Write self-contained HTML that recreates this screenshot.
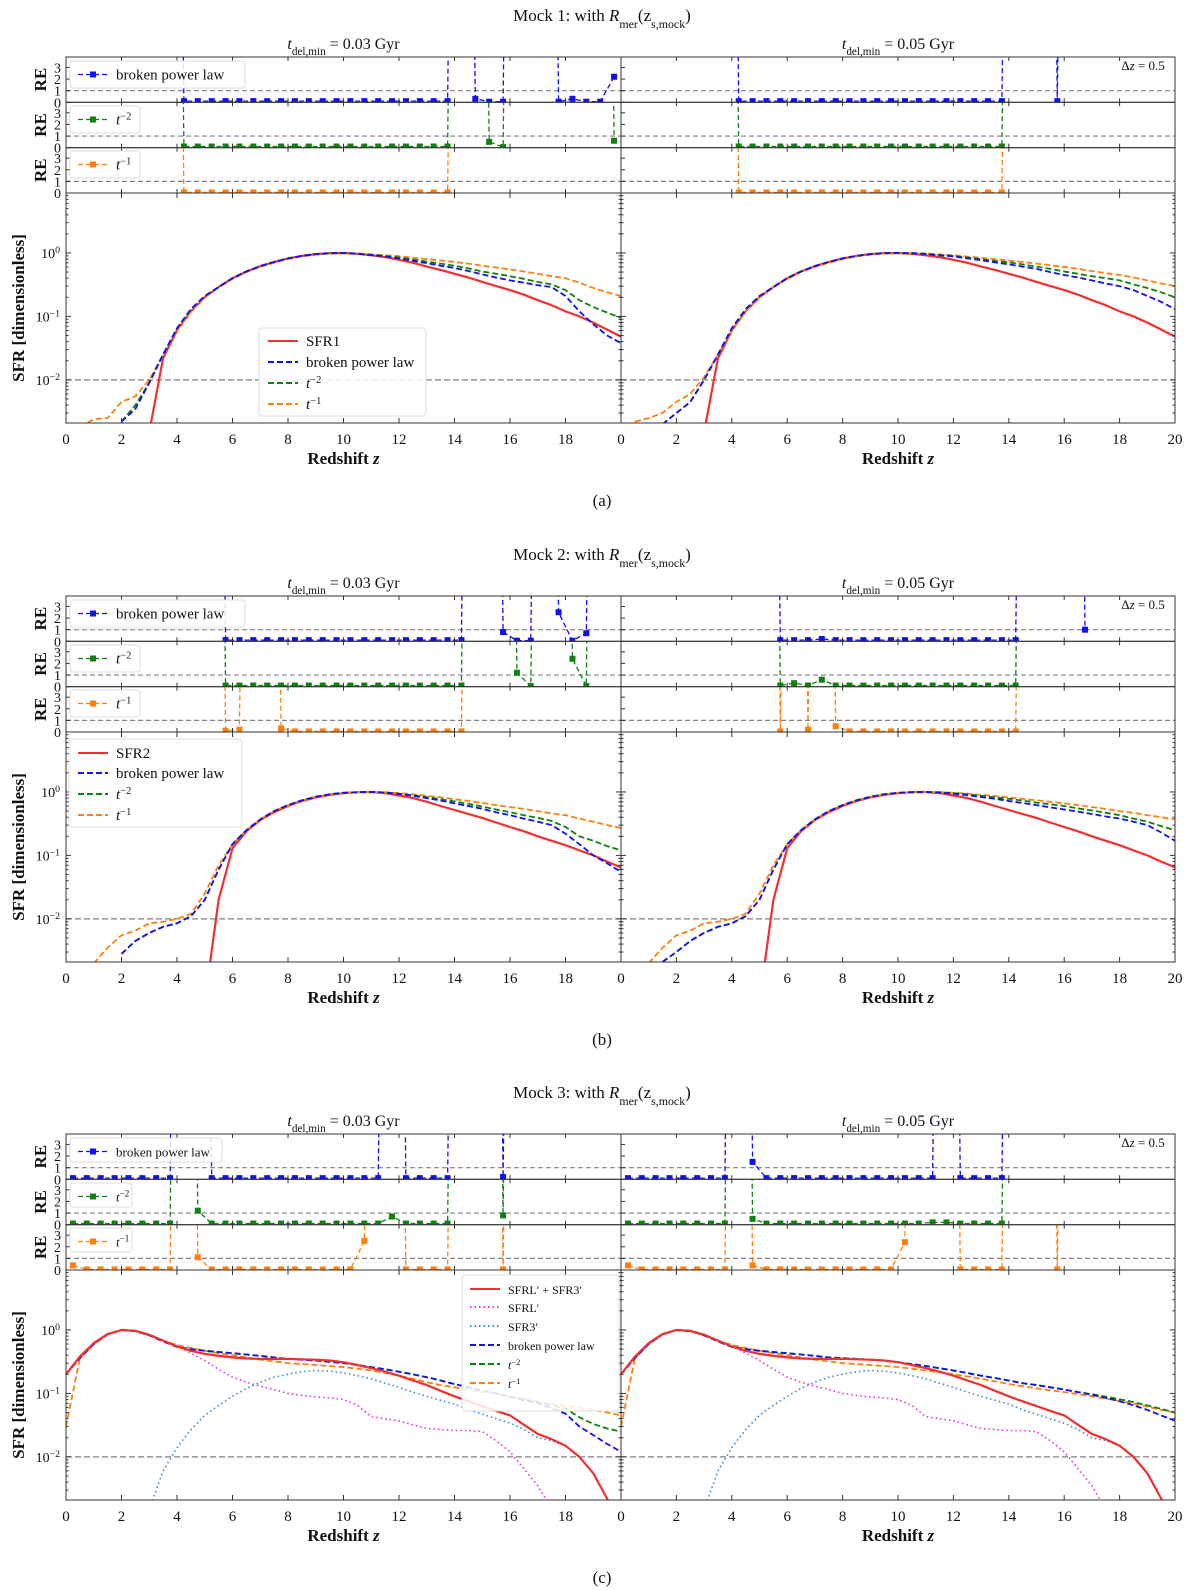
<!DOCTYPE html>
<html><head><meta charset="utf-8"><title>SFR reconstruction mocks</title>
<style>
html,body{margin:0;padding:0;background:#fff;}
svg{display:block;font-family:"Liberation Serif",serif;}
</style></head>
<body>
<svg id="fig" width="1200" height="1590" viewBox="0 0 1200 1590" xmlns="http://www.w3.org/2000/svg"></svg>
<script>
const N=null, H=99;
// main-plot redshift grid: 0..20 step 0.5
const zMain=[0,0.5,1,1.5,2,2.5,3,3.5,4,4.5,5,5.5,6,6.5,7,7.5,8,8.5,9,9.5,10,10.5,11,11.5,12,12.5,13,13.5,14,14.5,15,15.5,16,16.5,17,17.5,18,18.5,19,19.5,20];
// RE grid: bin centres, dz=0.5
const zRE=[0.25,0.75,1.25,1.75,2.25,2.75,3.25,3.75,4.25,4.75,5.25,5.75,6.25,6.75,7.25,7.75,8.25,8.75,9.25,9.75,10.25,10.75,11.25,11.75,12.25,12.75,13.25,13.75,14.25,14.75,15.25,15.75,16.25,16.75,17.25,17.75,18.25,18.75,19.25,19.75];
const xTicks=[0,2,4,6,8,10,12,14,16,18,20];
const reTicks=[0,1,2,3];
const logTicks=[0,-1,-2];

// ---------- Mock 1 ----------
const aRed=[N,N,N,N,N,N,.0015,.022,.06,.12,.2,.29,.4,.51,.62,.72,.82,.9,.96,.99,1,.97,.92,.86,.78,.7,.61,.54,.47,.41,.35,.3,.26,.22,.18,.15,.12,.1,.08,.062,.048];
const aLBlue=[N,N,N,N,.0022,.0035,.009,.025,.065,.13,.21,.29,.4,.51,.62,.72,.82,.9,.96,.99,1,.97,.93,.88,.82,.75,.69,.63,.58,.52,.46,.41,.37,.34,.31,.29,.21,.12,.075,.05,.038];
const aLGreen=[N,N,N,N,.0022,.004,.009,.025,.065,.13,.21,.29,.4,.51,.62,.72,.82,.9,.96,.99,1,.98,.94,.9,.85,.79,.73,.68,.63,.57,.51,.47,.43,.39,.35,.32,.26,.18,.14,.115,.095];
const aLOrange=[N,.0018,.0024,.0025,.0045,.0055,.01,.025,.06,.12,.2,.29,.39,.5,.6,.7,.8,.88,.94,.98,1,.98,.95,.92,.89,.84,.8,.76,.72,.68,.63,.59,.55,.51,.47,.43,.4,.34,.28,.24,.21];
const aRBlue=[N,N,N,.002,.003,.0045,.01,.025,.065,.13,.21,.29,.4,.51,.62,.72,.82,.9,.96,.99,1,.99,.96,.92,.88,.82,.77,.71,.66,.61,.56,.5,.45,.41,.37,.33,.3,.26,.21,.17,.13];
const aRGreen=[N,N,N,.002,.003,.0045,.01,.025,.065,.13,.21,.29,.4,.51,.62,.72,.82,.9,.96,.99,1,.99,.97,.93,.9,.85,.8,.75,.71,.66,.61,.56,.51,.47,.43,.4,.37,.32,.28,.24,.2];
const aROrange=[N,.0022,.0025,.003,.0045,.006,.011,.025,.06,.12,.2,.29,.39,.5,.6,.7,.8,.88,.94,.98,1,.99,.98,.95,.92,.88,.84,.8,.76,.72,.68,.64,.6,.56,.52,.48,.45,.41,.37,.33,.3];
const aLreB=[N,N,N,N,N,N,N,H,.1,.1,.1,.1,.1,.1,.1,.1,.1,.1,.1,.1,.1,.1,.1,.1,.1,.1,.1,.1,H,.3,.05,.05,H,H,H,.05,.3,.05,.05,2.2];
const aLreG=[N,N,N,N,N,N,N,H,.1,.1,.1,.1,.1,.1,.1,.1,.1,.1,.1,.1,.1,.1,.1,.1,.1,.1,.1,.1,H,H,.5,.05,H,H,H,H,H,H,H,.6];
const aLreO=[N,N,N,N,N,N,N,H,.05,.05,.05,.05,.05,.05,.05,.05,.05,.05,.05,.05,.05,.05,.05,.05,.05,.05,.05,.05,H,H,H,H,H,H,H,H,H,H,H,H];
const aRreB=[N,N,N,N,N,N,N,H,.1,.1,.1,.1,.1,.1,.1,.1,.1,.1,.1,.1,.1,.1,.1,.1,.1,.1,.1,.1,H,H,H,.1,H,H,H,H,H,H,H,H];
const aRreG=[N,N,N,N,N,N,N,H,.1,.1,.1,.1,.1,.1,.1,.1,.1,.1,.1,.1,.1,.1,.1,.1,.1,.1,.1,.1,H,H,H,H,H,H,H,H,H,H,H,H];
const aRreO=[N,N,N,N,N,N,N,H,.05,.05,.05,.05,.05,.05,.05,.05,.05,.05,.05,.05,.05,.05,.05,.05,.05,.05,.05,.05,H,H,H,H,H,H,H,H,H,H,H,H];

// ---------- Mock 2 ----------
const bRed=[N,N,N,N,N,N,N,N,N,N,.0005,.02,.13,.24,.36,.48,.6,.72,.82,.9,.96,.99,1,.96,.88,.8,.7,.6,.52,.45,.39,.33,.28,.24,.2,.17,.145,.12,.1,.08,.065];
const bLBlue=[N,N,N,N,.0028,.0045,.006,.0075,.0085,.011,.02,.06,.15,.25,.37,.5,.62,.74,.84,.92,.97,.99,1,.98,.93,.87,.8,.73,.66,.6,.54,.48,.43,.38,.34,.3,.22,.15,.1,.075,.055];
const bLGreen=[N,N,N,N,.0028,.0045,.006,.0075,.0085,.011,.02,.06,.15,.25,.37,.5,.62,.74,.84,.92,.97,.99,1,.98,.94,.89,.83,.77,.71,.65,.59,.53,.48,.43,.39,.35,.28,.2,.17,.14,.12];
const bLOrange=[N,N,.002,.0035,.0055,.0065,.0085,.009,.01,.012,.025,.07,.15,.25,.37,.5,.62,.74,.84,.92,.97,.99,1,.99,.96,.92,.87,.82,.77,.72,.67,.62,.58,.54,.5,.46,.43,.38,.34,.3,.27];
const bRBlue=[N,N,N,.0021,.003,.0045,.006,.0075,.0085,.011,.02,.06,.15,.25,.37,.5,.62,.74,.84,.92,.97,.99,1,.98,.94,.89,.83,.78,.72,.67,.62,.57,.53,.49,.45,.41,.38,.34,.3,.23,.17];
const bRGreen=[N,N,N,.0021,.003,.0045,.006,.0075,.0085,.011,.02,.06,.15,.25,.37,.5,.62,.74,.84,.92,.97,.99,1,.99,.96,.92,.87,.82,.78,.73,.68,.64,.6,.55,.51,.47,.43,.38,.34,.29,.25];
const bROrange=[N,N,.002,.0035,.0055,.0065,.0085,.009,.01,.012,.025,.07,.15,.25,.37,.5,.62,.74,.84,.92,.97,.99,1,.99,.97,.94,.9,.86,.82,.78,.74,.7,.66,.62,.58,.54,.5,.47,.43,.4,.37];
const bLreB=[N,N,N,N,N,N,N,N,N,N,H,.1,.1,.1,.1,.1,.1,.1,.1,.1,.1,.1,.1,.1,.1,.1,.1,.1,.1,H,H,.8,.05,.05,H,2.5,.05,.7,H,H];
const bLreG=[N,N,N,N,N,N,N,N,N,N,H,.1,.1,.1,.1,.1,.1,.1,.1,.1,.1,.1,.1,.1,.1,.1,.1,.1,.1,H,H,H,1.2,.05,H,H,2.4,.05,H,H];
const bLreO=[N,N,N,N,N,N,N,N,N,N,H,.1,.2,H,H,.3,.05,.05,.05,.05,.05,.05,.05,.05,.05,.05,.05,.05,.05,H,H,H,H,H,H,H,H,H,H,H];
const bRreB=[N,N,N,N,N,N,N,N,N,N,H,.1,.1,.1,.2,.1,.1,.1,.1,.1,.1,.1,.1,.1,.1,.1,.1,.1,.1,H,H,H,H,1.0,N,N,N,N,N,N];
const bRreG=[N,N,N,N,N,N,N,N,N,N,H,.1,.3,.1,.6,.1,.1,.1,.1,.1,.1,.1,.1,.1,.1,.1,.1,.1,.1,H,H,H,H,H,H,H,H,H,H,H];
const bRreO=[N,N,N,N,N,N,N,N,N,N,H,.05,H,.2,H,.5,.05,.05,.05,.05,.05,.05,.05,.05,.05,.05,.05,.05,.05,H,H,H,H,H,H,H,H,H,H,H];

// ---------- Mock 3 ----------
const cRed=[.2,.38,.62,.86,1,.97,.84,.68,.55,.47,.42,.39,.37,.355,.35,.35,.35,.345,.34,.33,.31,.28,.25,.22,.19,.16,.135,.11,.09,.075,.063,.053,.045,.032,.023,.019,.015,.01,.0055,.0022,.0008];
const cSFRL=[.2,.38,.62,.86,1,.97,.84,.68,.55,.43,.33,.24,.18,.15,.13,.115,.1,.093,.088,.085,.08,.065,.043,.04,.037,.032,.028,.027,.026,.026,.025,.018,.012,.0065,.0035,.0015,N,N,N,N,N];
const cSFR3=[N,N,N,N,N,N,.0015,.006,.014,.027,.045,.065,.09,.12,.15,.18,.2,.22,.23,.225,.21,.19,.17,.145,.125,.105,.09,.078,.068,.055,.047,.04,.034,.027,.02,.018,.015,.01,.0055,.0022,.0008];
const cLBlue=[.2,.36,.6,.85,1,.96,.82,.66,.54,.5,.47,.45,.43,.41,.39,.37,.35,.34,.33,.315,.3,.28,.26,.24,.22,.2,.18,.16,.14,.125,.11,.1,.088,.078,.07,.058,.048,.03,.022,.016,.012];
const cLGreen=[.2,.36,.6,.85,1,.96,.82,.66,.54,.5,.47,.45,.43,.41,.39,.37,.35,.34,.33,.315,.3,.28,.26,.24,.22,.2,.18,.16,.14,.125,.11,.1,.088,.08,.072,.065,.058,.042,.033,.028,.025];
const cLOrange=[.03,.36,.6,.85,1,.96,.82,.68,.58,.52,.47,.43,.4,.37,.34,.32,.3,.29,.28,.27,.26,.245,.23,.21,.19,.17,.15,.135,.125,.115,.105,.098,.09,.082,.075,.068,.064,.06,.055,.05,.045];
const cRBlue=[.2,.36,.6,.85,1,.96,.82,.66,.54,.5,.47,.45,.43,.41,.39,.37,.36,.35,.34,.33,.31,.29,.27,.25,.23,.21,.19,.175,.16,.145,.135,.125,.115,.105,.095,.085,.075,.065,.055,.045,.037];
const cRGreen=[.2,.36,.6,.85,1,.96,.82,.66,.54,.5,.47,.45,.43,.41,.39,.37,.36,.35,.34,.33,.31,.29,.27,.25,.23,.21,.19,.175,.16,.145,.135,.125,.115,.105,.097,.089,.081,.073,.065,.057,.05];
const cROrange=[.03,.36,.6,.85,1,.96,.82,.68,.58,.52,.47,.43,.4,.37,.34,.32,.3,.29,.28,.27,.26,.245,.23,.215,.2,.185,.17,.155,.14,.13,.12,.112,.105,.097,.09,.083,.076,.069,.062,.055,.05];
const cLreB=[.1,.1,.1,.1,.1,.1,.1,.1,H,H,.1,.1,.1,.1,.1,.1,.1,.1,.1,.1,.1,.1,.1,H,.1,.1,.1,.1,H,H,H,.2,H,H,H,H,H,H,H,H];
const cLreG=[.1,.1,.1,.1,.1,.1,.1,.1,H,1.2,.1,.1,.1,.1,.1,.1,.1,.1,.1,.1,.1,.1,.1,.7,.1,.1,.1,.1,H,H,H,.8,H,H,H,H,H,H,H,H];
const cLreO=[.4,.05,.05,.05,.05,.05,.05,.05,H,1.1,.05,.05,.05,.05,.05,.05,.05,.05,.05,.05,.05,2.5,H,H,.05,.05,.05,.05,H,H,H,.05,H,H,H,H,H,H,H,H];
const cRreB=[.1,.1,.1,.1,.1,.1,.1,.1,H,1.5,.1,.1,.1,.1,.1,.1,.1,.1,.1,.1,.1,.1,.1,H,.1,.1,.1,.1,H,H,H,H,H,H,H,H,H,H,H,H];
const cRreG=[.1,.1,.1,.1,.1,.1,.1,.1,H,.5,.1,.1,.1,.1,.1,.1,.1,.1,.1,.1,.1,.1,.2,.2,.1,.1,.1,.1,H,H,H,H,H,H,H,H,H,H,H,H];
const cRreO=[.4,.05,.05,.05,.05,.05,.05,.05,H,.4,.05,.05,.05,.05,.05,.05,.05,.05,.05,.05,2.4,H,H,H,.05,.05,.05,.05,H,H,H,.05,H,H,H,H,H,H,H,H];

const C={red:'#f03030',blue:'#1010f0',green:'#108010',orange:'#ff7f0e',mag:'#e030e0',sky:'#3a8ac8',grey:'#808080'};
const svg=document.getElementById('fig');
const NS='http://www.w3.org/2000/svg';
let clipId=0;
function el(tag,attrs,parent){const e=document.createElementNS(NS,tag);for(const k in attrs)e.setAttribute(k,attrs[k]);(parent||svg).appendChild(e);return e;}

const XL=66, XM=621, XR=1175;
const LOGMIN=-2.68, LOGMAX=0.945, REMAX=3.9;

function richText(parent,x,y,size,parts,anchor,name){
  const t=el('text',{x:x,y:y,'font-size':size,'text-anchor':anchor||'middle',fill:'#111'},parent);
  
  
  parts.forEach(p=>{const s=document.createElementNS(NS,'tspan');
    if(p.i)s.setAttribute('font-style','italic');
    if(p.sub){s.setAttribute('baseline-shift','sub');s.setAttribute('font-size',size*0.7);}
    if(p.sup){s.setAttribute('baseline-shift','super');s.setAttribute('font-size',size*0.7);}
    s.textContent=p.t;t.appendChild(s);});
  return t;
}
function pathD(zs,vs,sx,sy,isLog){
  let d='',pen=false;
  for(let i=0;i<zs.length;i++){const v=vs[i];
    if(v===null||v===undefined||(isLog&&v<=0)){pen=false;continue;}
    const x=sx(zs[i]),y=sy(v);d+=(pen?'L':'M')+x.toFixed(1)+' '+y.toFixed(1);pen=true;}
  return d;
}
function makeClip(g,x,y,w,h){const id='clip'+(clipId++);const cp=el('clipPath',{id:id},g);el('rect',{x:x,y:y,width:w,height:h},cp);return 'url(#'+id+')';}

function drawRE(g,x0,x1,top,bot,vals,color,showLabels,name){
  const sx=z=>x0+z/20*(x1-x0);
  const sy=v=>bot-v/REMAX*(bot-top);
  const ax=el('g',{},g);
  
  
  const cl=makeClip(ax,x0,top,x1-x0,bot-top);
  el('line',{x1:x0,x2:x1,y1:sy(1),y2:sy(1),stroke:C.grey,'stroke-width':1.2,'stroke-dasharray':'5,3'},ax);
  const pg=el('g',{'clip-path':cl},ax);
  const ln=el('path',{d:pathD(zRE,vals,sx,sy,false),fill:'none',stroke:color,'stroke-width':1.3,'stroke-dasharray':'5,3'},pg);
  
  
  vals.forEach((v,i)=>{if(v!==null&&v<=REMAX){
    const m=el('rect',{x:sx(zRE[i])-3,y:sy(v)-3,width:6,height:6,fill:color},pg);
    
    }});
  el('rect',{x:x0,y:top,width:x1-x0,height:bot-top,fill:'none',stroke:'#333','stroke-width':1},ax);
  xTicks.forEach(t=>{const x=sx(t);el('line',{x1:x,x2:x,y1:bot,y2:bot-4,stroke:'#333'},ax);el('line',{x1:x,x2:x,y1:top,y2:top+4,stroke:'#333'},ax);});
  reTicks.forEach(t=>{el('line',{x1:x0,x2:x0+4,y1:sy(t),y2:sy(t),stroke:'#333'},ax);
    if(showLabels){const tl=el('text',{x:x0-5,y:sy(t)+5,'font-size':14,'text-anchor':'end',fill:'#111'},ax);tl.textContent=t;
      }});
  if(showLabels){const lab=el('text',{x:0,y:0,'font-size':17,'font-weight':'bold','text-anchor':'middle',fill:'#111',transform:'translate(46,'+((top+bot)/2)+') rotate(-90)'},ax);
    lab.textContent='RE';}
}

function drawMain(g,x0,x1,top,bot,series,showLabels,name){
  const sx=z=>x0+z/20*(x1-x0);
  const sy=v=>bot-(Math.log10(v)-LOGMIN)/(LOGMAX-LOGMIN)*(bot-top);
  const ax=el('g',{},g);
  
  
  const cl=makeClip(ax,x0,top,x1-x0,bot-top);
  el('line',{x1:x0,x2:x1,y1:sy(0.01),y2:sy(0.01),stroke:C.grey,'stroke-width':1.2,'stroke-dasharray':'6,3'},ax);
  const pg=el('g',{'clip-path':cl},ax);
  series.forEach(s=>{
    const p=el('path',{d:pathD(zMain,s.v,sx,sy,true),fill:'none',stroke:s.c,'stroke-width':s.w||1.8,'stroke-linejoin':'round'},pg);
    if(s.dash)p.setAttribute('stroke-dasharray',s.dash);
    
    
  });
  el('rect',{x:x0,y:top,width:x1-x0,height:bot-top,fill:'none',stroke:'#333','stroke-width':1},ax);
  xTicks.forEach(t=>{const x=sx(t);el('line',{x1:x,x2:x,y1:bot,y2:bot-5,stroke:'#333'},ax);el('line',{x1:x,x2:x,y1:top,y2:top+5,stroke:'#333'},ax);
    if(showLabels&&t===20)return;
    const tl=el('text',{x:x,y:bot+21,'font-size':15,'text-anchor':'middle',fill:'#111'},ax);tl.textContent=t;
    });
  for(let d=-3;d<=0;d++){for(let k=1;k<=9;k++){const lv=d+Math.log10(k);if(lv<LOGMIN||lv>LOGMAX)continue;
    const y=sy(Math.pow(10,lv));const len=k===1?5:2.5;
    el('line',{x1:x0,x2:x0+len,y1:y,y2:y,stroke:'#333'},ax);el('line',{x1:x1,x2:x1-len,y1:y,y2:y,stroke:'#333'},ax);}}
  if(showLabels){
    logTicks.forEach(e=>{const y=sy(Math.pow(10,e));
      richText(ax,x0-6,y+5,14,[{t:'10'},{t:String(e).replace('-','−'),sup:true}],'end','y-tick-label');});
    const yl=el('text',{x:0,y:0,'font-size':17,'font-weight':'bold','text-anchor':'middle',fill:'#111',transform:'translate(24,'+((top+bot)/2)+') rotate(-90)'},ax);
    yl.textContent='SFR [dimensionless]';
  }
  const xl=richText(ax,(x0+x1)/2,bot+41,17,[{t:'Redshift '},{t:'z',i:true}],'middle','x-axis-title');
  xl.setAttribute('font-weight','bold');
}

function legendBox(g,x,y,w,h,name){const b=el('rect',{x:x,y:y,width:w,height:h,rx:3,fill:'#fff','fill-opacity':0.85,stroke:'#ddd'},g);
  }
function legendEntry(g,x,y,color,dash,label,size,marker){
  const e=el('g',{},g);
  
  
  const ln=el('line',{x1:x,x2:x+30,y1:y,y2:y,stroke:color,'stroke-width':marker?1.3:2},e);
  if(dash)ln.setAttribute('stroke-dasharray',dash);
  if(marker)el('rect',{x:x+12,y:y-3,width:6,height:6,fill:color},e);
  richText(e,x+38,y+5,size,label,'start','legend-label');
}

const panels=[
 {off:0,mock:'1',tag:'(a)',reL:[aLreB,aLreG,aLreO],reR:[aRreB,aRreG,aRreO],
  mainL:[{v:aRed,c:C.red,w:2.2,n:'sfr1-line'},{v:aLOrange,c:C.orange,dash:'6,3',n:'t-1-line'},{v:aLGreen,c:C.green,dash:'6,3',n:'t-2-line'},{v:aLBlue,c:C.blue,dash:'6,3',n:'broken-power-law-line'}],
  mainR:[{v:aRed,c:C.red,w:2.2,n:'sfr1-line'},{v:aROrange,c:C.orange,dash:'6,3',n:'t-1-line'},{v:aRGreen,c:C.green,dash:'6,3',n:'t-2-line'},{v:aRBlue,c:C.blue,dash:'6,3',n:'broken-power-law-line'}],
  redLabel:[{t:'SFR1'}]},
 {off:539,mock:'2',tag:'(b)',reL:[bLreB,bLreG,bLreO],reR:[bRreB,bRreG,bRreO],
  mainL:[{v:bRed,c:C.red,w:2.2,n:'sfr2-line'},{v:bLOrange,c:C.orange,dash:'6,3',n:'t-1-line'},{v:bLGreen,c:C.green,dash:'6,3',n:'t-2-line'},{v:bLBlue,c:C.blue,dash:'6,3',n:'broken-power-law-line'}],
  mainR:[{v:bRed,c:C.red,w:2.2,n:'sfr2-line'},{v:bROrange,c:C.orange,dash:'6,3',n:'t-1-line'},{v:bRGreen,c:C.green,dash:'6,3',n:'t-2-line'},{v:bRBlue,c:C.blue,dash:'6,3',n:'broken-power-law-line'}],
  redLabel:[{t:'SFR2'}]},
 {off:1077,mock:'3',tag:'(c)',reL:[cLreB,cLreG,cLreO],reR:[cRreB,cRreG,cRreO],
  mainL:[{v:cSFRL,c:C.mag,dash:'1.5,3',w:1.6,n:'sfrl-line'},{v:cSFR3,c:C.sky,dash:'1.5,3',w:1.6,n:'sfr3-line'},{v:cLOrange,c:C.orange,dash:'6,3',n:'t-1-line'},{v:cLGreen,c:C.green,dash:'6,3',n:'t-2-line'},{v:cLBlue,c:C.blue,dash:'6,3',n:'broken-power-law-line'},{v:cRed,c:C.red,w:2.2,n:'sfrl-plus-sfr3-line'}],
  mainR:[{v:cSFRL,c:C.mag,dash:'1.5,3',w:1.6,n:'sfrl-line'},{v:cSFR3,c:C.sky,dash:'1.5,3',w:1.6,n:'sfr3-line'},{v:cROrange,c:C.orange,dash:'6,3',n:'t-1-line'},{v:cRGreen,c:C.green,dash:'6,3',n:'t-2-line'},{v:cRBlue,c:C.blue,dash:'6,3',n:'broken-power-law-line'},{v:cRed,c:C.red,w:2.2,n:'sfrl-plus-sfr3-line'}]}
];

panels.forEach((P,pi)=>{
  const o=P.off;
  const g=el('g',{});
  
  
  richText(g,602,o+21,17,[{t:'Mock '+P.mock+': with '},{t:'R',i:true},{t:'mer',sub:true},{t:'(z'},{t:'s,mock',sub:true},{t:')'}],'middle','panel-title');
  [[XL,XM,'0.03'],[XM,XR,'0.05']].forEach(([a,b,v])=>{
    richText(g,(a+b)/2,o+49,16,[{t:'t',i:true},{t:'del,min',sub:true},{t:' = '+v+' Gyr'}],'middle','column-title');
  });
  const tops=[o+57,o+102.3,o+147.7,o+193];
  const cols=[C.blue,C.green,C.orange];
  const names=['re-broken-power-law','re-t-2','re-t-1'];
  for(let k=0;k<3;k++){
    drawRE(g,XL,XM,tops[k],tops[k+1],P.reL[k],cols[k],true,names[k]+'-left');
    drawRE(g,XM,XR,tops[k],tops[k+1],P.reR[k],cols[k],false,names[k]+'-right');
  }
  const small=pi===2;
  const fs=small?13:15;
  legendBox(g,70,o+61,small?152:175,small?24:27,'re-legend');
  legendEntry(g,78,o+74.5,C.blue,'5,3',[{t:'broken power law'}],fs,true);
  legendBox(g,70,o+106,small?62:70,small?24:27,'re-legend');
  legendEntry(g,78,o+119.5,C.green,'5,3',[{t:'t',i:true},{t:'−2',sup:true}],fs,true);
  legendBox(g,70,o+151,small?62:70,small?24:27,'re-legend');
  legendEntry(g,78,o+164.5,C.orange,'5,3',[{t:'t',i:true},{t:'−1',sup:true}],fs,true);
  richText(g,1143,o+70,13,[{t:'Δ'},{t:'z',i:true},{t:' = 0.5'}],'middle','delta-z-label');

  drawMain(g,XL,XM,o+193,o+423,P.mainL,true,'main-plot-left');
  drawMain(g,XM,XR,o+193,o+423,P.mainR,false,'main-plot-right');
  const tg=el('text',{x:602,y:o+506,'font-size':17,'text-anchor':'middle',fill:'#111'},g);
  tg.textContent=P.tag;

  if(pi===0){
    legendBox(g,259,o+328,167,88,'main-legend');
    legendEntry(g,268,o+341,C.red,null,P.redLabel,15,false);
    legendEntry(g,268,o+362,C.blue,'6,3',[{t:'broken power law'}],15,false);
    legendEntry(g,268,o+383,C.green,'6,3',[{t:'t',i:true},{t:'−2',sup:true}],15,false);
    legendEntry(g,268,o+404,C.orange,'6,3',[{t:'t',i:true},{t:'−1',sup:true}],15,false);
  } else if(pi===1){
    legendBox(g,69,o+200,173,88,'main-legend');
    legendEntry(g,78,o+214,C.red,null,P.redLabel,15,false);
    legendEntry(g,78,o+234,C.blue,'6,3',[{t:'broken power law'}],15,false);
    legendEntry(g,78,o+255,C.green,'6,3',[{t:'t',i:true},{t:'−2',sup:true}],15,false);
    legendEntry(g,78,o+276,C.orange,'6,3',[{t:'t',i:true},{t:'−1',sup:true}],15,false);
  } else {
    legendBox(g,462,o+198,157,136,'main-legend');
    legendEntry(g,470,o+212,C.red,null,[{t:'SFRL′ + SFR3′'}],12,false);
    legendEntry(g,470,o+230,C.mag,'1.5,3',[{t:'SFRL′'}],12,false);
    legendEntry(g,470,o+249,C.sky,'1.5,3',[{t:'SFR3′'}],12,false);
    legendEntry(g,470,o+268,C.blue,'6,3',[{t:'broken power law'}],12,false);
    legendEntry(g,470,o+287,C.green,'6,3',[{t:'t',i:true},{t:'−2',sup:true}],12,false);
    legendEntry(g,470,o+306,C.orange,'6,3',[{t:'t',i:true},{t:'−1',sup:true}],12,false);
  }
});
</script>
</body></html>
